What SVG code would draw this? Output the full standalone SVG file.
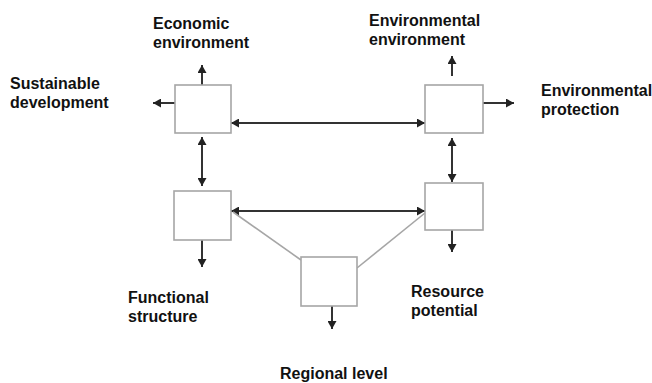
<svg xmlns="http://www.w3.org/2000/svg" width="652" height="383" viewBox="0 0 652 383">
<style>
.box{fill:#fff;stroke:#a6a6a6;stroke-width:1.6}
.arr{stroke:#333;stroke-width:2;fill:none}
.ln{stroke:#a6a6a6;stroke-width:1.6;fill:none}
.lbl{font-family:"Liberation Sans",Arial,sans-serif;font-weight:bold;font-size:16px;fill:#111}
</style>
<defs>
<marker id="ah" viewBox="0 0 8 9" refX="8" refY="4.5" markerWidth="8" markerHeight="9" markerUnits="userSpaceOnUse" orient="auto-start-reverse">
<path d="M0,0 L8,4.5 L0,9 z" fill="#222"/>
</marker>
</defs>
<rect width="652" height="383" fill="#fff"/>
<g id="connectors">
<line class="arr" x1="202" y1="85" x2="202" y2="65" marker-end="url(#ah)"/>
<line class="arr" x1="175" y1="103" x2="153" y2="103" marker-end="url(#ah)"/>
<line class="arr" x1="231" y1="123" x2="425" y2="123" marker-start="url(#ah)" marker-end="url(#ah)"/>
<line class="arr" x1="202" y1="137" x2="202" y2="186" marker-start="url(#ah)" marker-end="url(#ah)"/>
<line class="arr" x1="452" y1="76" x2="452" y2="56" marker-end="url(#ah)"/>
<line class="arr" x1="483" y1="103" x2="514" y2="103" marker-end="url(#ah)"/>
<line class="arr" x1="452" y1="138" x2="452" y2="182" marker-start="url(#ah)" marker-end="url(#ah)"/>
<line class="arr" x1="231" y1="211" x2="425" y2="211" marker-start="url(#ah)" marker-end="url(#ah)"/>
<line class="arr" x1="202" y1="240" x2="202" y2="267" marker-end="url(#ah)"/>
<line class="arr" x1="452" y1="230" x2="452" y2="252" marker-end="url(#ah)"/>
<line class="arr" x1="332" y1="306" x2="332" y2="329" marker-end="url(#ah)"/>
<line class="ln" x1="301" y1="260" x2="233" y2="212"/>
<line class="ln" x1="357" y1="268" x2="425" y2="213"/>
</g>
<g id="economic"><rect class="box" x="175" y="85" width="56" height="48"/></g>
<g id="environmental"><rect class="box" x="425" y="85" width="58" height="48"/></g>
<g id="functional"><rect class="box" x="174" y="191" width="57" height="49"/></g>
<g id="resource"><rect class="box" x="425" y="183" width="58" height="47"/></g>
<g id="regional"><rect class="box" x="301" y="257" width="56" height="49"/></g>
<g id="labels">
<text class="lbl" x="153" y="29">Economic</text>
<text class="lbl" x="153" y="48">environment</text>
<text class="lbl" x="10" y="89">Sustainable</text>
<text class="lbl" x="10" y="108">development</text>
<text class="lbl" x="369" y="26">Environmental</text>
<text class="lbl" x="369" y="45">environment</text>
<text class="lbl" x="541" y="96">Environmental</text>
<text class="lbl" x="541" y="115">protection</text>
<text class="lbl" x="128" y="303">Functional</text>
<text class="lbl" x="128" y="322">structure</text>
<text class="lbl" x="411" y="297">Resource</text>
<text class="lbl" x="411" y="316">potential</text>
<text class="lbl" x="280" y="379">Regional level</text>
</g>
</svg>
